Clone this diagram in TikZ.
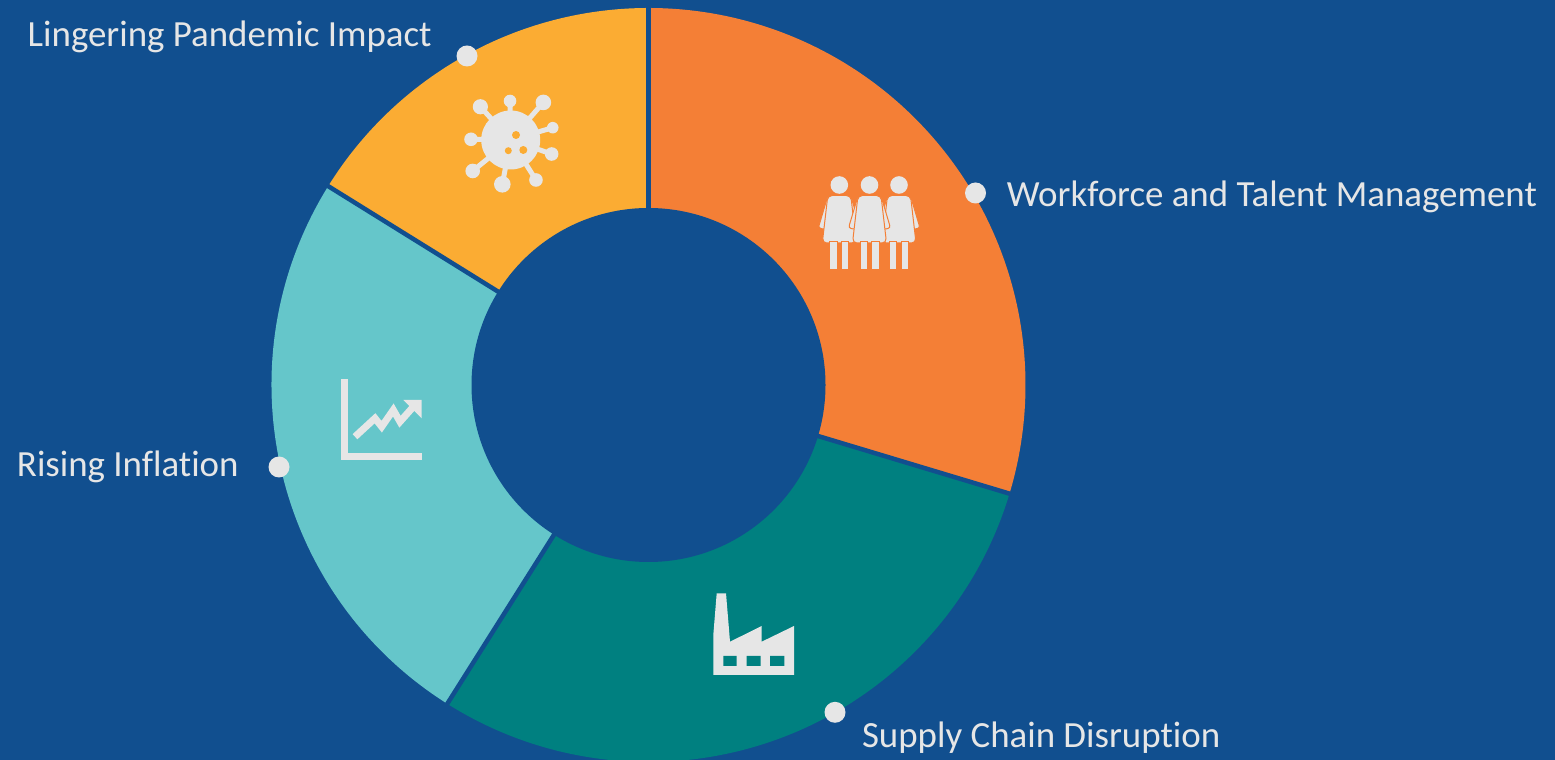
\documentclass[tikz,border=0pt]{standalone}
\usepackage{fontspec}
\setmainfont{Carlito}[Ligatures=NoCommon]
\usepackage{xcolor}
\usepackage{tikz}
\usetikzlibrary{calc,positioning}
\definecolor{bgblue}{HTML}{114F8F}
\definecolor{segorange}{HTML}{F47F36}
\definecolor{segyellow}{HTML}{FBAC33}
\definecolor{segteal}{HTML}{008080}
\definecolor{seglight}{HTML}{65C6CA}
\definecolor{icongray}{HTML}{E6E6E6}
\tikzset{
  dot/.style={circle, fill=icongray, minimum size=0.42cm, inner sep=0pt},
  lbl/.style={text=icongray, inner sep=0pt, font=\fontsize{21}{25}\selectfont},
  gap/.style={draw=bgblue, line width=0.09cm},
  icon/.style={fill=icongray},
  woman/.pic={
    \filldraw[icon, draw=segorange, line width=0.02cm, rounded corners=1.5]
      (-11.5,-11) -- (-21,-43) -- (-13.5,-44.5) -- (-6,-20) -- cycle
      (11.5,-11) -- (21,-43) -- (13.5,-44.5) -- (6,-20) -- cycle;
    \filldraw[icon, draw=segorange, line width=0.02cm, rounded corners=2.5]
      (-11.5,-10.5) -- (11.5,-10.5) -- (17,-58) -- (-17,-58) -- cycle;
    \filldraw[icon, draw=segorange, line width=0.02cm]
      (-9.5,-57) rectangle (-2.3,-84.5) (2.3,-57) rectangle (9.5,-84.5);
    \fill[icon] (0,0) circle[radius=8.8];
  }
}

\begin{document}
\begin{tikzpicture}[x=0.02cm, y=0.02cm]
\fill[bgblue] (0,0) rectangle (1555,760);
\useasboundingbox (0,0) rectangle (1555,760);
\coordinate (c) at (648.5,375);
% ring
\foreach \a/\b/\col in {90/-16.75/segorange, -16.75/-122.26/segteal,
  -122.26/-211.83/seglight, 148.17/90/segyellow}
  \fill[\col] (c) -- ($(c)+(\a:377)$) arc[start angle=\a, end angle=\b, radius=377] -- cycle;
\foreach \a in {90,-16.75,-122.26,148.17}
  \draw[gap] (c) -- ($(c)+(\a:380)$);
\fill[bgblue] (c) circle[radius=177];

% virus
\begin{scope}[shift={(510.7,620)}]
  \foreach \ang/\d/\r in {132.4/45/7.6, 91/39/6.3, 49/49.8/7.8, 16.3/43.8/5.8,
    -18.9/43.3/6.8, -57.7/47.3/6.8, -100.7/45.1/8.3, -140.8/49/7.3, 179/39.7/6.8}{
    \draw[icongray, line width=0.1cm] (0,0) -- (\ang:\d);
    \fill[icon] (\ang:\d) circle[radius=\r];
  }
  \fill[icon] (0,0) circle[radius=29.5];
  \fill[segyellow] (5.3,5) circle[radius=4] (-2.4,-10.7) circle[radius=3.5]
    (12.6,-10) circle[radius=4];
\end{scope}

% people
\pic at (839.3,575) {woman};
\pic at (899,575) {woman};
\pic at (869.5,575) {woman};

% chart
\fill[icon] (341,300) rectangle (348.3,380.7);
\fill[icon] (341,300) rectangle (421.7,307.3);
\draw[icongray, line width=0.14cm, miter limit=4]
  (355,323.3) -- (375,341.7) -- (381.7,333.3) -- (393.3,350) -- (400,338.3) -- (414,354);
\fill[icon] (403.3,360) -- (421.7,360) -- (421.7,341.7) -- cycle;

% factory
\fill[icon] (716.7,166.7) -- (726,166.7) -- (730,118.3) -- (761.7,134) -- (761.7,118.3)
  -- (794,134) -- (794,85) -- (713.3,85) -- (713.3,125) -- cycle;
\fill[segteal] (723.3,94) rectangle (736.7,104) (746.7,94) rectangle (760.7,104)
  (770,94) rectangle (784.3,104);

% labels
\node[dot] (pdot) at (467,704) {};
\node[dot] (wdot) at (975.5,567) {};
\node[dot] (rdot) at (279,293) {};
\node[dot] (sdot) at (835,47.7) {};
\node[lbl, anchor=base east] (ptext) at ($(pdot)+(-35,9)$) {Lingering Pandemic Impact};
\node[lbl, anchor=base west] (wtext) at ($(wdot)+(31,-13.7)$) {Workforce and Talent Management};
\node[lbl, anchor=base east] (rtext) at ($(rdot)+(-40,-9.7)$) {Rising Inflation};
\node[lbl, anchor=base west] (stext) at ($(sdot)+(26.7,-35.4)$) {Supply Chain Disruption};
\end{tikzpicture}
\end{document}
